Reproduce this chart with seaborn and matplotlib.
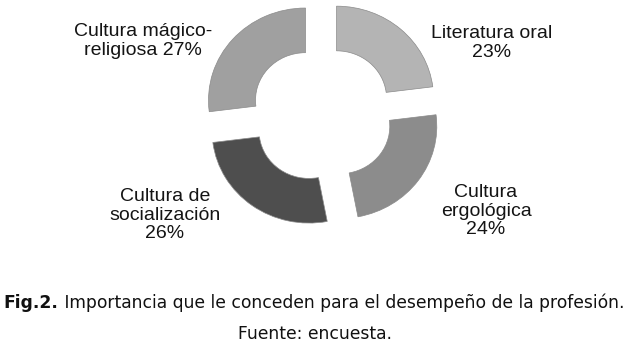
import matplotlib
matplotlib.use("Agg")
import matplotlib.pyplot as plt
import seaborn as sns

categories = ["Literatura oral", "Cultura ergológica", "Cultura de socialización", "Cultura mágico-religiosa"]
values = [23, 24, 26, 27]
label_texts = ["Literatura oral\n23%", "Cultura\nergológica\n24%", "Cultura de\nsocialización\n26%", "Cultura mágico-\nreligiosa 27%"]
colors = ["#b4b4b4", "#8c8c8c", "#4e4e4e", "#a0a0a0"]
caption_bold = "Fig.2."
caption_rest = " Importancia que le conceden para el desempeño de la profesión."
source = "Fuente: encuesta."

sns.set_theme(style="white")
plt.rcParams['font.family'] = ['Liberation Sans', 'DejaVu Sans']

W, H = 630, 355
fig = plt.figure(figsize=(6.3, 3.55), dpi=100)
ax = fig.add_axes([0, 0, 1, 1])

yscale = 0.95          # vertical squish of the original donut
cx, cy = 322, 114      # centre in image pixels
R = 97                 # outer radius (px)
ring = 47              # ring thickness (px)
d = 22                 # explode distance (px)

wedges, _ = ax.pie(values, colors=colors, startangle=90, counterclock=False,
                   radius=R, center=(cx, (H - cy) / yscale), frame=True,
                   explode=[d] * len(values),
                   wedgeprops=dict(width=ring, edgecolor="#8a8a8a", linewidth=0.5))
ax.set_aspect("auto")
ax.set_xlim(0, W)
ax.set_ylim(0, H / yscale)
ax.axis("off")

def px(x, y):
    return x / W, 1 - y / H

label_pos = [(492, 43), (486, 211), (165, 215), (143, 41)]
for (x, y), t in zip(label_pos, label_texts):
    fig.text(*px(x, y), t, ha="center", va="center", fontsize=14, color="#141414",
             linespacing=1.15)

# caption
cap_font = ['DejaVu Sans']
t1 = fig.text(0, 0, caption_bold, fontsize=12.3, fontweight="bold", family=cap_font, color="#111111")
t2 = fig.text(0, 0, caption_rest, fontsize=12.3, family=cap_font, color="#111111")
fig.canvas.draw()
r = fig.canvas.get_renderer()
w1 = t1.get_window_extent(r).width
w2 = t2.get_window_extent(r).width
x0 = 314 - (w1 + w2) / 2
t1.set_position(px(x0, 303))
t1.set_va("center")
t2.set_position(px(x0 + w1, 303))
t2.set_va("center")
fig.text(*px(315, 334), source, fontsize=12.3, family=cap_font, color="#111111",
         ha="center", va="center")

fig.savefig("out.png", dpi=100)
